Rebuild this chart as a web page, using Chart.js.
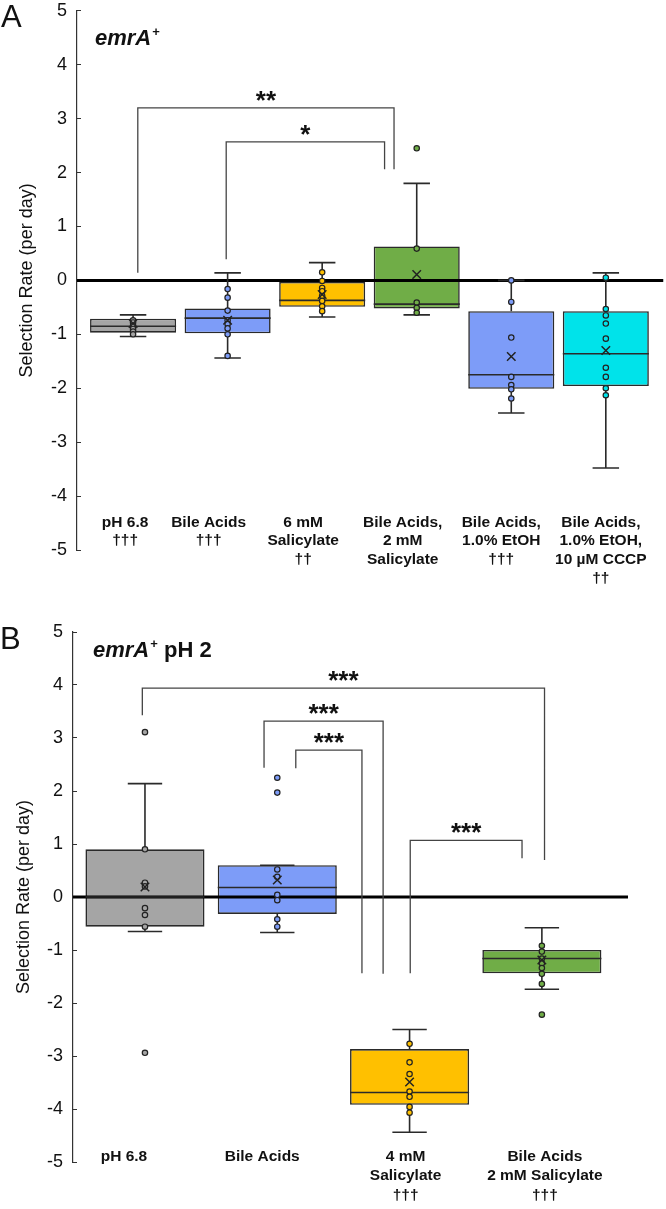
<!DOCTYPE html>
<html><head><meta charset="utf-8">
<script src="https://cdn.jsdelivr.net/npm/chart.js@4.4.1/dist/chart.umd.min.js"></script>
<style>
body{margin:0;background:#fff;overflow:hidden;}
.w{position:absolute;left:0;}
</style>
</head><body>
<div class="w" style="top:-14px;height:614px;width:671px"><canvas id="ca"></canvas></div>
<div class="w" style="top:600px;height:609px;width:666px"><canvas id="cb"></canvas></div>
<script>
// ---------- Panel A data ----------
const catsA = [["pH 6.8","†††"],["Bile Acids","†††"],["6 mM","Salicylate","††"],["Bile Acids,","2 mM","Salicylate"],["Bile Acids,","1.0% EtOH","†††"],["Bile Acids,","1.0% EtOH,","10 µM CCCP","††"]];
const minA  = [-1.04,-1.44,-0.68,-0.64,-2.46,-3.48];
const q1A   = [-0.97,-0.98,-0.49,-0.52,-2.01,-1.96];
const medA  = [-0.85,-0.70,-0.37,-0.44,-1.75,-1.36];
const q3A   = [-0.71,-0.52,-0.03, 0.63,-0.57,-0.57];
const maxA  = [-0.64, 0.14, 0.33, 1.80, 0.00, 0.14];
const meanA = [-0.80,-0.74,-0.26, 0.11,-1.41,-1.30];
const ptsA  = [
  [-0.74,-0.78,-0.84,-0.90,-0.95,-1.00],
  [-0.16,-0.32,-0.56,-0.74,-0.81,-0.89,-1.00,-1.40],
  [0.15,-0.01,-0.14,-0.20,-0.29,-0.38,-0.48,-0.57],
  [2.45,0.59,-0.41,-0.51,-0.60],
  [0.00,-0.40,-1.06,-1.79,-1.94,-2.02,-2.19],
  [0.05,-0.53,-0.65,-0.80,-1.08,-1.62,-1.79,-2.00,-2.13]
];
const colorsA = ["#a5a5a5","#7d9cf8","#ffc000","#70ad47","#7d9cf8","#00e3ea"];
const sigTextA = ["**","*"];
const sigLeftA  = [[0.05,0.14],[0.985,0.39]];   // [x, y-end]
const sigRightA = [[2.76,2.06],[2.66,2.06]];
const sigTopA   = [3.2,2.57];

// ---------- Panel B data ----------
const catsB = [["pH 6.8"],["Bile Acids"],["4 mM","Salicylate","†††"],["Bile Acids","2 mM Salicylate","†††"]];
const minB  = [-0.65,-0.67,-4.44,-1.74];
const q1B   = [-0.56,-0.32,-3.92,-1.44];
const medB  = [ 0.00, 0.18,-3.69,-1.16];
const q3B   = [ 0.90, 0.60,-2.87,-1.00];
const maxB  = [ 2.14, 0.60,-2.50,-0.58];
const meanB = [ 0.19, 0.32,-3.49,-1.19];
const ptsB  = [
  [3.11,0.90,0.27,0.20,-0.21,-0.34,-0.56,-2.94],
  [2.25,1.97,0.52,0.38,0.04,-0.06,-0.42,-0.56],
  [-2.77,-3.12,-3.34,-3.67,-3.77,-3.96,-4.07],
  [-0.92,-1.03,-1.16,-1.25,-1.34,-1.45,-1.64,-2.22]
];
const colorsB = ["#a5a5a5","#7d9cf8","#ffc000","#70ad47"];
const sigTextB = ["***","***","***","***"];
const sigLeftB  = [[-0.02,3.43],[0.90,2.44],[1.14,2.43],[2.005,-1.44]];
const sigRightB = [[3.02,0.70],[1.80,-1.45],[1.64,-1.44],[2.85,0.73]];
const sigTopB   = [3.94,3.32,2.77,1.07];

const yTicks = [5,4,3,2,1,0,-1,-2,-3,-4,-5];
const FONT = "'Liberation Sans', Arial, sans-serif";

const decoPlugin = {
  id: 'deco',
  afterDraw(chart, args, o) {
    const ctx = chart.ctx, xs = chart.scales.x, ys = chart.scales.y;
    ctx.save();
    ctx.fillStyle = '#111';
    // panel letter
    ctx.font = "31px " + FONT; ctx.textAlign = 'left'; ctx.textBaseline = 'alphabetic';
    ctx.fillText(o.letter, o.letterX, o.letterY);
    // title
    let x = o.titleX;
    ctx.font = "italic bold 22px " + FONT;
    ctx.fillText("emrA", x, o.titleY); x += ctx.measureText("emrA").width + 1;
    ctx.font = "bold 13px " + FONT;
    ctx.fillText("+", x, o.titleY - 9); x += ctx.measureText("+").width;
    if (o.titleRest) { ctx.font = "bold 22px " + FONT; ctx.fillText(o.titleRest, x, o.titleY); }
    // significance labels
    ctx.font = "bold 26px " + FONT; ctx.textAlign = 'center';
    o.sigText.forEach((t, i) => {
      const xm = (xs.getPixelForValue(o.sigL[i][0]) + xs.getPixelForValue(o.sigR[i][0])) / 2;
      ctx.fillText(t, xm, ys.getPixelForValue(o.sigTop[i]) + 1);
    });
    // category labels
    ctx.font = "bold 15.5px " + FONT; ctx.textBaseline = 'middle';
    o.cats.forEach((lines, i) => {
      const cx = xs.getPixelForValue(i) + o.shift[i];
      const y0 = ys.getPixelForValue(o.labelY);
      lines.forEach((ln, k) => ctx.fillText(ln, cx, y0 + k * o.lineH));
    });
    ctx.restore();
  }
};

function build(canvasId, d, L) {
  const n = d.cats.length;
  const whisk = [], med = [], brk = [], pts = [], ptCol = [], means = [];
  for (let i = 0; i < n; i++) {
    whisk.push({x:i,y:d.q3[i]},{x:i,y:d.max[i]},{x:i,y:null},
               {x:i-L.cap,y:d.max[i]},{x:i+L.cap,y:d.max[i]},{x:i,y:null},
               {x:i,y:d.q1[i]},{x:i,y:d.min[i]},{x:i,y:null},
               {x:i-L.cap,y:d.min[i]},{x:i+L.cap,y:d.min[i]},{x:i,y:null});
    med.push({x:i-L.half,y:d.med[i]},{x:i+L.half,y:d.med[i]},{x:i,y:null});
    d.pts[i].forEach(v => { pts.push({x:i,y:v}); ptCol.push(d.colors[i]); });
    means.push({x:i,y:d.mean[i]});
  }
  d.sigTop.forEach((t, i) => {
    brk.push({x:d.sigL[i][0],y:d.sigL[i][1]},{x:d.sigL[i][0],y:t},{x:d.sigR[i][0],y:t},{x:d.sigR[i][0],y:d.sigR[i][1]},{x:d.sigR[i][0],y:null});
  });
  const lineBase = {type:'line', pointRadius:0, fill:false, tension:0, spanGaps:false};
  return new Chart(document.getElementById(canvasId), {
    type: 'bar',
    data: { datasets: [
      {type:'bar', data:d.q1.map((q,i)=>({x:i,y:[q,d.q3[i]]})), backgroundColor:d.colors,
       borderColor:'#2a2a2a', borderWidth:1.6, borderSkipped:false, barPercentage:L.half*2,
       categoryPercentage:1, order:10},
      Object.assign({}, lineBase, {data:[{x:L.xmin,y:0},{x:L.xmax,y:0}], borderColor:'#000', borderWidth:3, order:9}),
      Object.assign({}, lineBase, {data:whisk, borderColor:'#2a2a2a', borderWidth:1.6, order:8}),
      Object.assign({}, lineBase, {data:med, borderColor:'#2a2a2a', borderWidth:1.6, order:7}),
      Object.assign({}, lineBase, {data:brk, borderColor:'#444', borderWidth:1.3, order:6}),
      {type:'scatter', data:pts, pointRadius:2.7, pointBackgroundColor:ptCol, pointBorderColor:'#222',
       pointBorderWidth:1.2, order:5},
      {type:'scatter', data:means, pointStyle:'crossRot', pointRadius:6, pointBorderColor:'#222',
       pointBorderWidth:1.5, order:4}
    ]},
    options: {
      responsive:true, maintainAspectRatio:false, animation:false, devicePixelRatio:1,
      layout:{padding:L.pad},
      plugins:{legend:{display:false}, tooltip:{enabled:false},
        deco:{letter:L.letter, letterX:L.letterX, letterY:L.letterY, titleX:L.titleX, titleY:L.titleY,
              titleRest:L.titleRest, sigText:d.sigText, sigL:d.sigL, sigR:d.sigR, sigTop:d.sigTop,
              cats:d.cats, shift:L.shift, labelY:L.labelY, lineH:L.lineH}},
      scales:{
        x:{type:'linear', display:false, min:L.xmin, max:L.xmax, offset:false,
           ticks:{display:false, stepSize:1, includeBounds:false}},
        y:{type:'linear', min:-5, max:5, afterFit(s){ s.width = L.axisX; },
           afterBuildTicks(s){ s.ticks = yTicks.map(v=>({value:v})); },
           ticks:{color:'#111', font:{family:FONT, size:18}, padding:14},
           grid:{drawOnChartArea:false, drawTicks:true, tickLength:-4, color:'#333', lineWidth:1},
           border:{display:true, color:'#333', width:1.2},
           title:{display:true, text:'Selection Rate (per day)', color:'#111',
                  font:{family:FONT, size:18}, padding:{top:L.titlePad, bottom:0}}}
      }
    },
    plugins:[decoPlugin]
  });
}

build('ca',
  {cats:catsA, min:minA, q1:q1A, med:medA, q3:q3A, max:maxA, mean:meanA, pts:ptsA, colors:colorsA,
   sigText:sigTextA, sigL:sigLeftA, sigR:sigRightA, sigTop:sigTopA},
  {xmin:-0.593, xmax:5.61, cap:0.14, half:0.455, axisX:77, pad:{top:10,bottom:50,left:0,right:3},
   titlePad:16, letter:'A', letterX:1, letterY:41, titleX:95, titleY:59, titleRest:'',
   shift:[-8,-19,-19,-14,-10,-5], labelY:-4.49, lineH:18.7});

build('cb',
  {cats:catsB, min:minB, q1:q1B, med:medB, q3:q3B, max:maxB, mean:meanB, pts:ptsB, colors:colorsB,
   sigText:sigTextB, sigL:sigLeftB, sigR:sigRightB, sigTop:sigTopB},
  {xmin:-0.544, xmax:3.651, cap:0.13, half:0.45, axisX:73, pad:{top:32,bottom:47,left:0,right:38},
   titlePad:13, letter:'B', letterX:0, letterY:49, titleX:93, titleY:57, titleRest:' pH 2',
   shift:[-21,-15,-4,3], labelY:-4.895, lineH:19.6});
</script>
</body></html>
